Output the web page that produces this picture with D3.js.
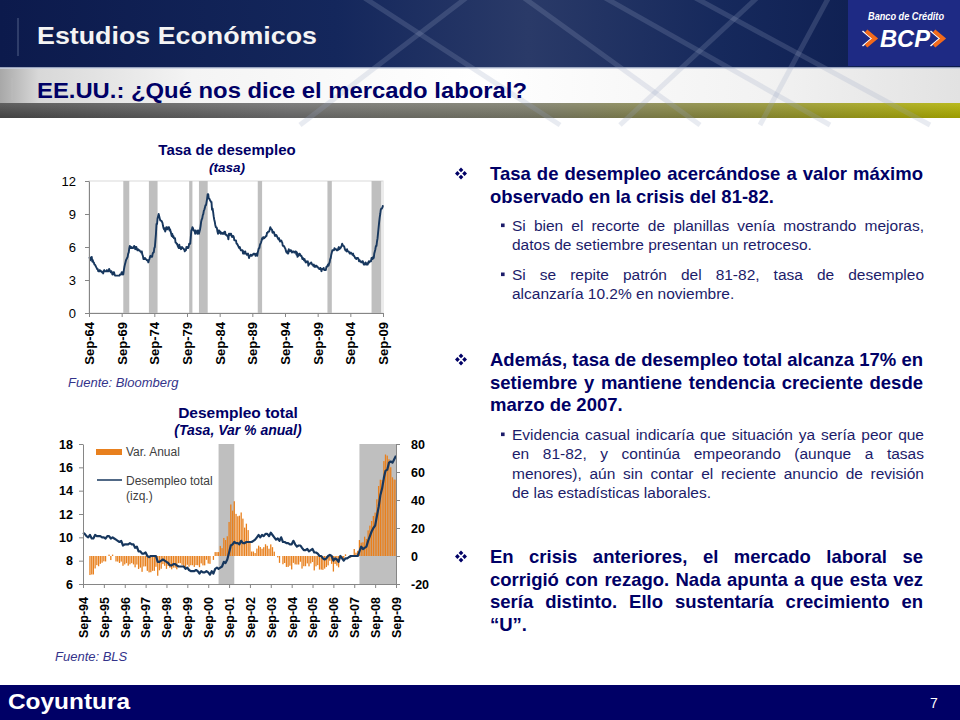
<!DOCTYPE html>
<html>
<head>
<meta charset="utf-8">
<script src="https://cdn.jsdelivr.net/npm/d3@7"></script>
<style>
  body { margin: 0; background: #fff; }
  svg { display: block; }
  text { font-family: Arial, "Liberation Sans", sans-serif; }
</style>
</head>
<body>
<div class="canvas"></div>
<script>
// ---- datos ----
// tasa de desempleo EE.UU., mensual desde Sep-64
const tasaInicio = '1964-09'
const tasa = [
  5.1,5.1,4.8,5.0,
  4.9,5.1,4.7,4.8,4.6,4.6,4.4,4.4,4.3,4.2,4.1,4.0,
  4.0,3.8,3.8,3.8,3.9,3.8,3.8,3.8,3.7,3.7,3.6,3.8,
  3.9,3.8,3.8,3.8,3.8,3.9,3.8,3.8,3.8,4.0,3.9,3.8,
  3.7,3.8,3.7,3.5,3.5,3.7,3.7,3.5,3.4,3.4,3.4,3.4,
  3.4,3.4,3.4,3.4,3.4,3.5,3.5,3.5,3.7,3.7,3.5,3.5,
  3.9,4.2,4.4,4.6,4.8,4.9,5.0,5.1,5.4,5.5,5.9,6.1,
  5.9,5.9,6.0,5.9,5.9,5.9,6.0,6.1,6.0,5.8,6.0,6.0,
  5.8,5.7,5.8,5.7,5.7,5.7,5.6,5.6,5.5,5.6,5.3,5.2,
  4.9,5.0,4.9,5.0,4.9,4.9,4.8,4.8,4.8,4.6,4.8,4.9,
  5.1,5.2,5.1,5.1,5.1,5.4,5.5,5.5,5.9,6.0,6.6,7.2,
  8.1,8.1,8.6,8.8,9.0,8.8,8.6,8.4,8.4,8.4,8.3,8.2,
  7.9,7.7,7.6,7.7,7.4,7.6,7.8,7.8,7.6,7.7,7.8,7.8,
  7.5,7.6,7.4,7.2,7.0,7.2,6.9,7.0,6.8,6.8,6.8,6.4,
  6.4,6.3,6.3,6.1,6.0,5.9,6.2,5.9,6.0,5.8,5.9,6.0,
  5.9,5.9,5.8,5.8,5.6,5.7,5.7,6.0,5.9,6.0,5.9,6.0,
  6.3,6.3,6.3,6.9,7.5,7.6,7.8,7.7,7.5,7.5,7.5,7.2,
  7.5,7.4,7.4,7.2,7.5,7.5,7.2,7.4,7.6,7.9,8.3,8.5,
  8.6,8.9,9.0,9.3,9.4,9.6,9.8,9.8,10.1,10.4,10.8,10.8,
  10.4,10.4,10.3,10.2,10.1,10.1,9.4,9.5,9.2,8.8,8.5,8.3,
  8.0,7.8,7.8,7.7,7.4,7.2,7.5,7.5,7.3,7.4,7.2,7.3,
  7.3,7.2,7.2,7.3,7.2,7.4,7.4,7.1,7.1,7.1,7.0,7.0,
  6.7,7.2,7.2,7.1,7.2,7.2,7.0,6.9,7.0,7.0,6.9,6.6,
  6.6,6.6,6.6,6.3,6.3,6.2,6.1,6.0,5.9,6.0,5.8,5.7,
  5.7,5.7,5.7,5.4,5.6,5.4,5.4,5.6,5.4,5.4,5.3,5.3,
  5.4,5.2,5.0,5.2,5.2,5.3,5.2,5.2,5.3,5.3,5.4,5.4,
  5.4,5.3,5.2,5.4,5.4,5.2,5.5,5.7,5.9,5.9,6.2,6.3,
  6.4,6.6,6.8,6.7,6.9,6.9,6.8,6.9,6.9,7.0,7.0,7.3,
  7.3,7.4,7.4,7.4,7.6,7.8,7.7,7.6,7.6,7.3,7.4,7.4,
  7.3,7.1,7.0,7.1,7.1,7.0,6.9,6.8,6.7,6.8,6.6,6.5,
  6.6,6.6,6.5,6.4,6.1,6.1,6.1,6.0,5.9,5.8,5.6,5.5,
  5.6,5.4,5.4,5.8,5.6,5.6,5.7,5.7,5.6,5.5,5.6,5.6,
  5.6,5.5,5.5,5.6,5.6,5.3,5.5,5.1,5.2,5.2,5.4,5.4,
  5.3,5.2,5.2,5.1,4.9,5.0,4.9,4.8,4.9,4.7,4.6,4.7,
  4.6,4.6,4.7,4.3,4.4,4.5,4.5,4.5,4.6,4.5,4.4,4.4,
  4.3,4.4,4.2,4.3,4.2,4.3,4.3,4.2,4.2,4.1,4.1,4.0,
  4.0,4.1,4.0,3.8,4.0,4.0,4.0,4.1,3.9,3.9,3.9,3.9,
  4.2,4.2,4.3,4.4,4.3,4.5,4.6,4.9,5.0,5.3,5.5,5.7,
  5.7,5.7,5.7,5.9,5.8,5.8,5.8,5.7,5.7,5.7,5.9,6.0,
  5.8,5.9,5.9,6.0,6.1,6.3,6.2,6.1,6.1,6.0,5.8,5.7,
  5.7,5.6,5.8,5.6,5.6,5.6,5.5,5.4,5.4,5.5,5.4,5.4,
  5.3,5.4,5.2,5.2,5.1,5.0,5.0,4.9,5.0,5.0,5.0,4.9,
  4.7,4.8,4.7,4.7,4.6,4.6,4.7,4.7,4.5,4.4,4.5,4.4,
  4.6,4.5,4.4,4.5,4.4,4.6,4.7,4.6,4.7,4.7,4.7,5.0,
  5.0,4.9,5.1,5.0,5.4,5.6,5.8,6.1,6.1,6.5,6.8,7.3,
  7.8,8.3,8.7,9.0,9.4,9.5,9.5,9.6,9.8
]

// desempleo total (izq.), mensual desde Sep-94
const totalInicio = '1994-09'
const desempleoTotal = [
  10.4,10.3,10.1,10.0,
  10.2,9.9,9.9,10.2,10.1,10.1,10.1,10.0,10.0,9.9,10.1,10.1,
  9.9,10.0,9.9,9.8,9.7,9.6,9.7,9.3,9.4,9.4,9.4,9.5,
  9.4,9.4,9.1,9.2,8.8,8.8,8.6,8.6,8.7,8.4,8.3,8.4,
  8.4,8.4,8.4,7.9,7.9,8.0,8.1,8.0,7.9,7.8,7.6,7.6,
  7.7,7.7,7.6,7.5,7.5,7.5,7.5,7.3,7.4,7.2,7.1,7.1,
  7.1,7.2,7.1,6.9,7.1,7.0,7.0,7.1,7.0,6.8,7.1,6.9,
  7.3,7.4,7.3,7.4,7.5,7.9,7.8,8.1,8.7,9.3,9.4,9.6,
  9.5,9.5,9.4,9.7,9.5,9.5,9.6,9.6,9.6,9.6,9.7,9.8,
  10.0,10.2,10.0,10.2,10.1,10.3,10.3,10.1,10.4,10.2,10.0,9.8,
  9.9,9.7,10.0,9.6,9.6,9.5,9.5,9.4,9.4,9.7,9.4,9.2,
  9.3,9.3,9.1,8.9,8.9,9.0,8.8,8.9,9.0,8.7,8.7,8.6,
  8.4,8.4,8.2,8.1,8.2,8.4,8.5,8.4,8.0,8.2,8.1,7.9,
  8.4,8.2,8.0,8.2,8.2,8.3,8.4,8.4,8.4,8.4,8.4,8.8,
  9.2,9.0,9.1,9.2,9.7,10.1,10.5,10.8,11.0,11.8,12.6,13.6,
  14.2,15.1,15.7,15.8,16.4,16.5,16.4,16.7,17.0
]

// var. anual (der.), mensual desde Ene-95
const varInicio = '1995-01'
const varAnual = [
  -13.6,-13.2,-13.2,-8.9,-6.5,-7.3,-5.6,-4.8,-3.8,-3.9,0.0,1.0,
  -2.9,1.0,0.0,-3.9,-4.0,-5.0,-4.0,-7.0,-6.0,-5.1,-6.9,-5.9,
  -5.1,-6.0,-8.1,-6.1,-9.3,-8.3,-11.3,-7.5,-7.4,-10.6,-11.7,-11.6,
  -10.6,-10.6,-7.7,-14.1,-10.2,-9.1,-5.8,-7.0,-9.2,-7.1,-8.4,-9.5,
  -8.3,-8.3,-9.5,-5.1,-5.1,-6.3,-7.4,-8.8,-6.3,-7.7,-6.6,-6.6,
  -7.8,-6.5,-6.6,-8.0,-5.3,-6.7,-6.7,-2.7,-5.4,-5.6,0.0,-2.8,
  2.8,2.8,2.8,7.2,5.6,12.9,11.4,14.1,24.3,36.8,32.4,39.1,
  30.1,28.4,28.8,31.1,26.7,20.3,23.1,18.5,10.3,3.2,3.2,2.1,
  5.3,7.4,6.4,5.2,6.3,8.4,7.3,5.2,8.3,6.3,3.1,0.0,
  -1.0,-4.9,0.0,-5.9,-5.0,-7.8,-7.8,-6.9,-9.6,-4.9,-6.0,-6.1,
  -6.1,-4.1,-9.0,-7.3,-7.3,-5.3,-7.4,-5.3,-4.3,-10.3,-7.4,-6.5,
  -9.7,-9.7,-9.9,-9.0,-7.9,-6.7,-3.4,-5.6,-11.1,-5.7,-6.9,-8.1,
  0.0,-2.4,-2.4,1.2,0.0,-1.2,-1.2,0.0,5.0,2.4,3.7,11.4,
  9.5,9.8,13.8,12.2,18.3,21.7,25.0,28.6,31.0,40.5,50.0,54.5,
  54.3,67.8,72.5,71.7,69.1,63.4,56.2,54.6,54.5
]

// recesiones (sombreado gris)
const recesiones1 = [
  ['1969-12','1970-11'], ['1973-11','1975-03'], ['1980-01','1980-07'],
  ['1981-07','1982-11'], ['1990-07','1991-03'], ['2001-03','2001-11'],
  ['2007-12','2009-06']
]
const recesiones2 = [['2001-03','2001-12'], ['2007-12','2009-09']]

// ejes
const ticksX1 = ['1964-09','1969-09','1974-09','1979-09','1984-09','1989-09','1994-09','1999-09','2004-09','2009-09']
const ticksX2 = ['1994-09','1995-09','1996-09','1997-09','1998-09','1999-09','2000-09','2001-09',
                 '2002-09','2003-09','2004-09','2005-09','2006-09','2007-09','2008-09','2009-09']
const ticksY1 = [0, 3, 6, 9, 12]
const ticksIzq = [6, 8, 10, 12, 14, 16, 18]
const ticksDer = [-20, 0, 20, 40, 60, 80]

// ---- setup ----
const navy = '#000066'
const lineCol = '#17375e'
const grayBand = '#bfbfbf'
const axisCol = '#868686'
const orange = '#e8801e'

const parse = d3.timeParse('%Y-%m')
const fmt = d3.timeFormat('%b-%y')
const num = d => String(d)   // guion simple, como en el original
const serie = (inicio, vals) => vals.map((v, i) => ({ fecha: d3.timeMonth.offset(parse(inicio), i), v }))

const svg = d3.select('.canvas')
  .append('svg')
  .attr('width', 960)
  .attr('height', 720)

const defs = svg.append('defs')

const grad = (id, stops, x2 = '100%', y2 = '0%') => {
  const g = defs.append('linearGradient').attr('id', id)
    .attr('x1', '0%').attr('y1', '0%').attr('x2', x2).attr('y2', y2)
  stops.forEach(s => g.append('stop').attr('offset', s[0]).attr('stop-color', s[1]))
}
grad('top', [['0%', '#0c1a4c'], ['35%', '#14275c'], ['55%', '#2a3a68'], ['75%', '#16295c'], ['100%', '#0b1a4c']])
grad('band', [['0%', '#a8a8a8'], ['4%', '#d8d8d8'], ['20%', '#f4f4f4'], ['50%', '#ffffff'], ['80%', '#f2f2f2'], ['100%', '#e2e2e2']])
grad('stripe', [['0%', '#4b4b4b'], ['30%', '#6e6e6e'], ['55%', '#7c7c6a'], ['75%', '#8c8c3c'], ['100%', '#b0b000']])
grad('stripeV', [['0%', '#ffffff'], ['100%', '#000000']], '0%', '100%')

// ---- cabecera ----
const head = svg.append('g')
head.append('rect').attr('width', 960).attr('height', 68).attr('fill', 'url(#top)')
head.append('rect').attr('y', 68).attr('width', 960).attr('height', 35).attr('fill', 'url(#band)')
head.append('rect').attr('y', 103).attr('width', 960).attr('height', 15).attr('fill', 'url(#stripe)')
head.append('rect').attr('y', 103).attr('width', 960).attr('height', 15).attr('fill', 'url(#stripeV)').attr('opacity', 0.12)
head.append('line').attr('x1', 0).attr('x2', 960).attr('y1', 68).attr('y2', 68).attr('stroke', '#c8d0e0').attr('stroke-width', 1.5)

// lineas cruzadas de la foto de fondo
const streaks = [[360, -5, 560, 125], [470, -5, 300, 125], [600, -5, 830, 125], [760, -5, 620, 125],
                 [520, -5, 700, 125], [690, -5, 930, 125], [830, -5, 760, 125]]
head.selectAll('line.streak')
  .data(streaks)
  .enter().append('line')
    .attr('class', 'streak')
    .attr('x1', d => d[0]).attr('y1', d => d[1])
    .attr('x2', d => d[2]).attr('y2', d => d[3])
    .attr('stroke', '#9aa6c4')
    .attr('stroke-width', 5)
    .attr('opacity', 0.22)

head.append('line').attr('x1', 18).attr('x2', 18).attr('y1', 18).attr('y2', 56).attr('stroke', '#8090b0').attr('opacity', 0.6)
head.append('line').attr('x1', 12).attr('x2', 12).attr('y1', 78).attr('y2', 100).attr('stroke', '#bbbbbb')

head.append('text')
  .attr('x', 37).attr('y', 44)
  .attr('font-size', 23).attr('font-weight', 'bold')
  .attr('fill', '#f4f4f4')
  .attr('textLength', 280).attr('lengthAdjust', 'spacingAndGlyphs')
  .text('Estudios Económicos')

head.append('text')
  .attr('x', 37).attr('y', 98)
  .attr('font-size', 22).attr('font-weight', 'bold')
  .attr('fill', navy)
  .attr('textLength', 490).attr('lengthAdjust', 'spacingAndGlyphs')
  .text('EE.UU.: ¿Qué nos dice el mercado laboral?')

// logo BCP
const logo = svg.append('g')
logo.append('rect').attr('x', 848).attr('width', 112).attr('height', 66).attr('fill', '#1e2a84')
logo.append('text')
  .attr('x', 906).attr('y', 20).attr('text-anchor', 'middle')
  .attr('font-size', 10.5).attr('font-weight', 'bold').attr('font-style', 'italic')
  .attr('fill', '#fff')
  .attr('textLength', 76).attr('lengthAdjust', 'spacingAndGlyphs')
  .text('Banco de Crédito')
logo.append('text')
  .attr('x', 905).attr('y', 47).attr('text-anchor', 'middle')
  .attr('font-size', 24).attr('font-weight', 'bold').attr('font-style', 'italic')
  .attr('fill', '#fff')
  .attr('textLength', 50).attr('lengthAdjust', 'spacingAndGlyphs')
  .text('BCP')
const chevron = x0 => `M${x0},31 L${x0 + 9},38.5 L${x0},46`
;[865, 933].forEach(x0 => {
  logo.append('path').attr('d', chevron(x0 - 2.5)).attr('fill', 'none').attr('stroke', '#ffffff').attr('stroke-width', 1.5)
  logo.append('path').attr('d', chevron(x0 + 1)).attr('fill', 'none').attr('stroke', '#f26a1b').attr('stroke-width', 4)
})

// ---- pie de pagina ----
svg.append('rect').attr('y', 685).attr('width', 960).attr('height', 35).attr('fill', navy)
svg.append('text')
  .attr('x', 8).attr('y', 709)
  .attr('font-size', 22).attr('font-weight', 'bold').attr('fill', '#fff')
  .attr('textLength', 122).attr('lengthAdjust', 'spacingAndGlyphs')
  .text('Coyuntura')
svg.append('text')
  .attr('x', 930).attr('y', 708)
  .attr('font-size', 14).attr('fill', '#fff')
  .text('7')

// ---- estilo de ejes ----
const styleAxis = (g, size, weight) => {
  g.select('.domain').attr('stroke', axisCol)
  g.selectAll('.tick line').attr('stroke', axisCol)
  g.selectAll('.tick text')
    .attr('font-size', size)
    .attr('font-weight', weight)
    .attr('fill', '#000')
    .attr('font-family', 'Arial, "Liberation Sans", sans-serif')
}

const rotateLabels = (g, off) => {
  g.selectAll('.tick text')
    .attr('transform', 'rotate(-90)')
    .attr('text-anchor', 'end')
    .attr('x', -off)
    .attr('y', 0)
    .attr('dy', '0.35em')
}

// ---- grafico 1: tasa de desempleo ----
const dims1 = { left: 89, right: 383, top: 181, bottom: 313 }

const x1 = d3.scaleTime()
  .domain([parse('1964-09'), parse('2009-09')])
  .range([dims1.left, dims1.right])
const y1 = d3.scaleLinear()
  .domain([0, 12])
  .range([dims1.bottom, dims1.top])

const g1 = svg.append('g')

g1.append('rect')
  .attr('x', dims1.left).attr('y', dims1.top)
  .attr('width', dims1.right - dims1.left).attr('height', dims1.bottom - dims1.top)
  .attr('fill', 'none').attr('stroke', '#d9d9d9')

g1.selectAll('rect.rec')
  .data(recesiones1)
  .enter().append('rect')
    .attr('class', 'rec')
    .attr('x', d => x1(parse(d[0])))
    .attr('width', d => x1(parse(d[1])) - x1(parse(d[0])))
    .attr('y', dims1.top)
    .attr('height', dims1.bottom - dims1.top)
    .attr('fill', grayBand)

g1.append('path')
  .datum(serie(tasaInicio, tasa))
  .attr('fill', 'none')
  .attr('stroke', lineCol)
  .attr('stroke-width', 1.9)
  .attr('stroke-linejoin', 'round')
  .attr('d', d3.line().x(d => x1(d.fecha)).y(d => y1(d.v)))

const ay1 = g1.append('g')
  .attr('transform', `translate(${dims1.left},0)`)
  .call(d3.axisLeft(y1).tickValues(ticksY1).tickFormat(num).tickSize(4).tickPadding(9).tickSizeOuter(0))
styleAxis(ay1, 13, 'normal')

const ax1 = g1.append('g')
  .attr('transform', `translate(0,${dims1.bottom})`)
  .call(d3.axisBottom(x1).tickValues(ticksX1.map(parse)).tickFormat(fmt).tickSize(4).tickSizeOuter(0))
styleAxis(ax1, 13, 'bold')
rotateLabels(ax1, 9)

g1.append('text')
  .attr('x', 227).attr('y', 155).attr('text-anchor', 'middle')
  .attr('font-size', 15).attr('font-weight', 'bold').attr('fill', navy)
  .text('Tasa de desempleo')
g1.append('text')
  .attr('x', 227).attr('y', 172).attr('text-anchor', 'middle')
  .attr('font-size', 13.5).attr('font-weight', 'bold').attr('font-style', 'italic').attr('fill', navy)
  .text('(tasa)')
g1.append('text')
  .attr('x', 68).attr('y', 387)
  .attr('font-size', 13).attr('font-style', 'italic').attr('fill', '#33338a')
  .text('Fuente: Bloomberg')

// ---- grafico 2: desempleo total ----
const dims2 = { left: 83, right: 396, top: 444, bottom: 584 }

const x2 = d3.scaleTime()
  .domain([parse('1994-09'), parse('2009-09')])
  .range([dims2.left, dims2.right])
const yIzq = d3.scaleLinear()
  .domain([6, 18])
  .range([dims2.bottom, dims2.top])
const yDer = d3.scaleLinear()
  .domain([-20, 80])
  .range([dims2.bottom, dims2.top])

const g2 = svg.append('g')

g2.selectAll('rect.rec')
  .data(recesiones2)
  .enter().append('rect')
    .attr('class', 'rec')
    .attr('x', d => x2(parse(d[0])))
    .attr('width', d => x2(parse(d[1])) - x2(parse(d[0])))
    .attr('y', dims2.top)
    .attr('height', dims2.bottom - dims2.top)
    .attr('fill', grayBand)

const bw = 1.3
g2.selectAll('rect.bar')
  .data(serie(varInicio, varAnual))
  .enter().append('rect')
    .attr('class', 'bar')
    .attr('x', d => x2(d.fecha) - bw / 2)
    .attr('width', bw)
    .attr('y', d => yDer(Math.max(0, d.v)))
    .attr('height', d => Math.abs(yDer(d.v) - yDer(0)))
    .attr('fill', orange)

g2.append('path')
  .datum(serie(totalInicio, desempleoTotal))
  .attr('fill', 'none')
  .attr('stroke', lineCol)
  .attr('stroke-width', 2.2)
  .attr('stroke-linejoin', 'round')
  .attr('d', d3.line().x(d => x2(d.fecha)).y(d => yIzq(d.v)))

const ayL = g2.append('g')
  .attr('transform', `translate(${dims2.left},0)`)
  .call(d3.axisLeft(yIzq).tickValues(ticksIzq).tickFormat(num).tickSize(4).tickPadding(6).tickSizeOuter(0))
styleAxis(ayL, 12.5, 'bold')

const ayR = g2.append('g')
  .attr('transform', `translate(${dims2.right},0)`)
  .call(d3.axisRight(yDer).tickValues(ticksDer).tickFormat(num).tickSize(4).tickPadding(11).tickSizeOuter(0))
styleAxis(ayR, 12.5, 'bold')

const ax2 = g2.append('g')
  .attr('transform', `translate(0,${dims2.bottom})`)
  .call(d3.axisBottom(x2).tickValues(ticksX2.map(parse)).tickFormat(fmt).tickSize(4).tickSizeOuter(0))
styleAxis(ax2, 12.5, 'bold')
rotateLabels(ax2, 13)

// leyenda
const leg = g2.append('g')
leg.append('rect').attr('x', 96).attr('y', 449).attr('width', 26).attr('height', 6).attr('fill', orange)
leg.append('text').attr('x', 126).attr('y', 456).text('Var. Anual')
leg.append('line').attr('x1', 97).attr('x2', 122).attr('y1', 480).attr('y2', 480)
  .attr('stroke', lineCol).attr('stroke-width', 1.5)
leg.append('text').attr('x', 126).attr('y', 485).text('Desempleo total')
leg.append('text').attr('x', 126).attr('y', 500).text('(izq.)')
leg.selectAll('text').attr('font-size', 12).attr('fill', '#404040')

g2.append('text')
  .attr('x', 238).attr('y', 418).attr('text-anchor', 'middle')
  .attr('font-size', 15.5).attr('font-weight', 'bold').attr('fill', navy)
  .text('Desempleo total')
g2.append('text')
  .attr('x', 238).attr('y', 435).attr('text-anchor', 'middle')
  .attr('font-size', 14).attr('font-weight', 'bold').attr('font-style', 'italic').attr('fill', navy)
  .text('(Tasa, Var % anual)')
g2.append('text')
  .attr('x', 55).attr('y', 661)
  .attr('font-size', 13).attr('font-style', 'italic').attr('fill', '#33338a')
  .text('Fuente: BLS')

// ---- texto de la derecha ----
const bloques = [
  { tipo: 'h', y: 180, lineas: ['Tasa de desempleo acercándose a valor máximo', 'observado en la crisis del 81-82.'] },
  { tipo: 's', y: 231, lineas: ['Si bien el recorte de planillas venía mostrando mejoras,', 'datos de setiembre presentan un retroceso.'] },
  { tipo: 's', y: 280, lineas: ['Si se repite patrón del 81-82, tasa de desempleo', 'alcanzaría 10.2% en noviembre.'] },
  { tipo: 'h', y: 366, lineas: ['Además, tasa de desempleo total alcanza 17% en', 'setiembre y mantiene tendencia creciente desde', 'marzo de 2007.'] },
  { tipo: 's', y: 440, lineas: ['Evidencia casual indicaría que situación ya sería peor que', 'en 81-82, y continúa empeorando (aunque a tasas',
                                'menores), aún sin contar el reciente anuncio de revisión', 'de las estadísticas laborales.'] },
  { tipo: 'h', y: 563, lineas: ['En crisis anteriores, el mercado laboral se', 'corrigió con rezago. Nada apunta a que esta vez',
                                'sería distinto. Ello sustentaría crecimiento en', '“U”.'] }
]

const estilos = {
  h: { x0: 490, x1: 923, size: 18.5, weight: 'bold', fill: navy, lh: 22.5 },
  s: { x0: 512, x1: 924, size: 15.5, weight: 'normal', fill: '#1c1c6a', lh: 19.3 }
}

const txt = svg.append('g')

const linea = (s, texto, y, justificar) => {
  const t = txt.append('text')
    .attr('y', y)
    .attr('font-size', s.size)
    .attr('font-weight', s.weight)
    .attr('fill', s.fill)
  if (!justificar) {
    t.attr('x', s.x0).text(texto)
    return
  }
  const palabras = texto.split(' ')
  const spans = palabras.map(p => t.append('tspan').text(p))
  const anchos = spans.map(sp => sp.node().getComputedTextLength())
  const gap = (s.x1 - s.x0 - d3.sum(anchos)) / (palabras.length - 1)
  let x = s.x0
  spans.forEach((sp, i) => {
    sp.attr('x', x)
    x += anchos[i] + gap
  })
}

// vineta de cuatro rombos
const vineta = (cx, cy) => {
  const r = 2.4, o = 3.6
  ;[[0, -o], [0, o], [-o, 0], [o, 0]].forEach(([dx, dy]) => {
    const x = cx + dx, y = cy + dy
    txt.append('path')
      .attr('d', `M${x},${y - r} L${x + r},${y} L${x},${y + r} L${x - r},${y} Z`)
      .attr('fill', navy)
  })
}

bloques.forEach(b => {
  const s = estilos[b.tipo]
  if (b.tipo === 'h') vineta(461, b.y - 6.5)
  else txt.append('rect').attr('x', 501).attr('y', b.y - 7.5).attr('width', 3.6).attr('height', 3.6).attr('fill', s.fill)
  b.lineas.forEach((l, i) => linea(s, l, b.y + i * s.lh, i < b.lineas.length - 1))
})
</script>
</body>
</html>
